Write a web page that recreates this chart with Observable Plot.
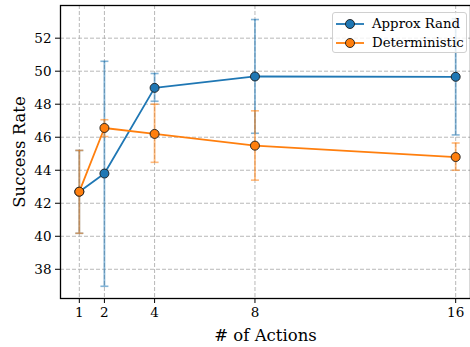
<!DOCTYPE html>
<html>
<head>
<meta charset="utf-8">
<script src="https://cdn.jsdelivr.net/npm/d3@7"></script>
<script src="https://cdn.jsdelivr.net/npm/@observablehq/plot@0.6"></script>
<style>
  html, body { margin: 0; padding: 0; background: #fff; }
  #wrap { position: relative; width: 470px; height: 347px; overflow: hidden; font-family: "DejaVu Serif", serif; }
  #legend { position: absolute; left: 332px; top: 12px; width: 135px; height: 41px; box-sizing: border-box;
    background: rgba(255,255,255,0.8); border: 1px solid #d0d0d0; border-radius: 3px; }
  .row { position: absolute; left: 0; height: 18px; display: flex; align-items: center; font-size: 13.3px; color: #000; white-space: nowrap; }
  .row svg { margin-left: 3px; margin-right: 8px; }
</style>
</head>
<body>
<div id="wrap"><div id="chart"></div><div id="legend"></div></div>
<script>
const actions = [1, 2, 4, 8, 16];
const xTicks = [1, 2, 4, 8, 16];
const yTicks = [38, 40, 42, 44, 46, 48, 50, 52];
const seriesNames = ["Approx Rand", "Deterministic"];
const seriesColors = ["#1f77b4", "#ff7f0e"];
const randMean = [42.70, 43.80, 48.99, 49.68, 49.66];
const randLow  = [40.18, 36.97, 48.18, 46.24, 46.14];
const randHigh = [45.20, 50.60, 49.86, 53.13, 53.18];
const detMean  = [42.70, 46.56, 46.20, 45.49, 44.80];
const detLow   = [40.18, 46.04, 44.48, 43.40, 44.00];
const detHigh  = [45.20, 47.06, 48.00, 47.60, 45.65];

const rand = actions.map((a, i) => ({x: a, y: randMean[i], lo: randLow[i], hi: randHigh[i]}));
const det = actions.map((a, i) => ({x: a, y: detMean[i], lo: detLow[i], hi: detHigh[i]}));

const capSymbol = { draw(ctx, size) { const w = Math.sqrt(size / Math.PI); ctx.moveTo(-w, 0); ctx.lineTo(w, 0); } };

function seriesMarks(data, color) {
  return [
    Plot.line(data, {x: "x", y: "y", stroke: color, strokeWidth: 1.8}),
    Plot.ruleX(data, {x: "x", y1: "lo", y2: "hi", stroke: color, strokeOpacity: 0.55, strokeWidth: 1.8}),
    Plot.dot(data, {x: "x", y: "lo", symbol: capSymbol, r: 4, stroke: color, strokeOpacity: 0.55, strokeWidth: 1.6}),
    Plot.dot(data, {x: "x", y: "hi", symbol: capSymbol, r: 4, stroke: color, strokeOpacity: 0.55, strokeWidth: 1.6}),
  ];
}

const chart = Plot.plot({
  width: 470,
  height: 347,
  marginLeft: 60,
  marginTop: 5,
  marginBottom: 49,
  marginRight: 0,
  style: {fontFamily: "DejaVu Serif, serif", background: "transparent", color: "#000"},
  x: {domain: [0.25, 16.75], range: [60, 474]},
  y: {domain: [36.23, 53.98], range: [298, 5]},
  marks: [
    Plot.gridX(xTicks, {stroke: "#b0b0b0", strokeOpacity: 1, strokeDasharray: "4,2", strokeWidth: 0.9}),
    Plot.gridY(yTicks, {stroke: "#b0b0b0", strokeOpacity: 1, strokeDasharray: "4,2", strokeWidth: 0.9}),
    ...seriesMarks(rand, seriesColors[0]),
    Plot.dot(rand, {x: "x", y: "y", r: 4.5, fill: seriesColors[0], stroke: "#1a1a1a", strokeWidth: 0.9}),
    ...seriesMarks(det, seriesColors[1]),
    Plot.dot(det, {x: "x", y: "y", r: 4.5, fill: seriesColors[1], stroke: "#1a1a1a", strokeWidth: 0.9}),
    Plot.frame({stroke: "#000", strokeWidth: 1.3}),
    Plot.axisX({ticks: xTicks, tickSize: 5, tickPadding: 4, fontSize: 13.5, label: "# of Actions", labelAnchor: "center", labelOffset: 42, labelArrow: "none"}),
    Plot.axisY({ticks: yTicks, tickSize: 5, tickPadding: 4, fontSize: 13.5, label: "Success Rate", labelAnchor: "center", labelOffset: 47, labelArrow: "none"})
  ]
});
document.getElementById("chart").appendChild(chart);

// style axis labels
d3.select(chart).selectAll("[aria-label='x-axis label'] text, [aria-label='y-axis label'] text").style("font-size", "16.5px");

const legend = document.getElementById("legend");
seriesNames.forEach((name, i) => {
  const row = document.createElement("div");
  row.className = "row";
  row.style.top = (i === 0 ? 1.5 : 20.5) + "px";
  row.innerHTML = `<svg width="28" height="14"><line x1="0" x2="28" y1="7" y2="7" stroke="${seriesColors[i]}" stroke-width="1.8"/><circle cx="14" cy="7" r="4.5" fill="${seriesColors[i]}" stroke="#1a1a1a" stroke-width="0.9"/></svg><span>${name}</span>`;
  legend.appendChild(row);
});
</script>
</body>
</html>
